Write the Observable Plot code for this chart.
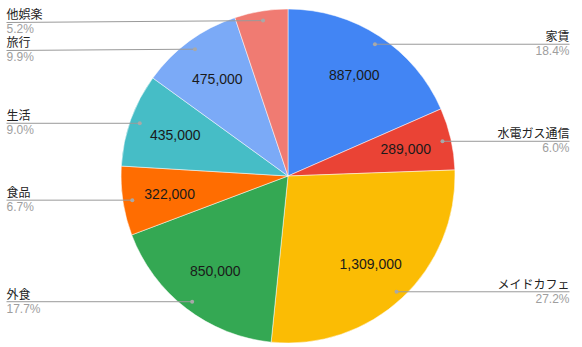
<!DOCTYPE html>
<html><head><meta charset="utf-8">
<script src="https://cdn.jsdelivr.net/npm/d3@7"></script>
<script src="https://cdn.jsdelivr.net/npm/@observablehq/plot@0.6"></script>
<style>body{margin:0;background:#fff} svg{display:block}</style>
</head><body><div id="chart"></div>
<script>
const categories = ["家賃", "水電ガス通信", "メイドカフェ", "外食", "食品", "生活", "旅行", "他娯楽"];
const values = [887000, 289000, 1309000, 850000, 322000, 435000, 475000, 248000];
const colors = ["#4285F4", "#EA4335", "#FBBC04", "#34A853", "#FF6D01", "#46BDC6", "#7BAAF7", "#F07B72"];

const W = 582, H = 347, CX = 288, CY = 176, R = 167;
const LABEL_TOP = 22;   // minimum label line position from the top edge
const LABEL_GAP = 28;   // minimum vertical spacing between labels on one side
const total = d3.sum(values);
const arcs = d3.pie().sort(null).value(d => d)(values);
const rows = arcs.map((p, i) => {
  const mid = (p.startAngle + p.endAngle) / 2;
  const share = values[i] / total;
  const side = mid < Math.PI ? 1 : -1;
  const dy = -0.946 * R * Math.cos(mid);
  return {
    cat: categories[i], value: values[i], share, color: colors[i],
    start: p.startAngle, end: p.endAngle, mid, side,
    vx: 0.72 * R * Math.sin(mid), vy: -0.72 * R * Math.cos(mid),
    dx: 0.946 * R * Math.sin(mid), dy,
    ly: Math.max(dy, -CY + LABEL_TOP),
    ax: side > 0 ? 281 : -282,
    label: d3.format(",")(values[i]),
    pct: (share * 100).toFixed(1) + "%"
  };
});
const right = rows.filter(d => d.side > 0);
const left = rows.filter(d => d.side < 0);
for (const group of [right, left]) {
  const sorted = group.slice().sort((a, b) => a.ly - b.ly);
  for (let i = 1; i < sorted.length; i++) {
    sorted[i].ly = Math.max(sorted[i].ly, sorted[i - 1].ly + LABEL_GAP);
  }
}
const shown = rows.filter(d => d.share >= 0.055);

function slices(index, scales) {
  const x0 = scales.x(0), y0 = scales.y(0), r = scales.x(R) - scales.x(0);
  const arc = d3.arc().innerRadius(0).outerRadius(r);
  const g = d3.create("svg:g").attr("transform", `translate(${x0},${y0})`);
  g.selectAll("path").data(rows).join("path")
    .attr("d", d => arc({startAngle: d.start, endAngle: d.end}))
    .attr("fill", d => d.color)
    .attr("stroke", "#fff")
    .attr("stroke-width", 0.5);
  return g.node();
}

const font = "'Liberation Sans', Arial, 'Noto Sans CJK JP', sans-serif";
const chart = Plot.plot({
  width: W, height: H,
  margin: 0,
  x: {domain: [-CX, W - CX], axis: null},
  y: {domain: [-CY, H - CY], range: [0, H], axis: null},
  style: {fontFamily: font, background: "#fff"},
  marks: [
    slices,
    Plot.text(shown, {x: "vx", y: "vy", text: "label", fontSize: 14, fill: "#1a1a1a"}),
    Plot.link(rows, {x1: "dx", y1: "dy", x2: "ax", y2: "ly", stroke: "#9a9a9a", strokeWidth: 1}),
    Plot.dot(rows, {x: "dx", y: "dy", r: 2, fill: "#a8a8a8"}),
    Plot.text(right, {x: "ax", y: "ly", text: "cat", textAnchor: "end", dy: -7, fontSize: 12, fill: "#222"}),
    Plot.text(right, {x: "ax", y: "ly", text: "pct", textAnchor: "end", dy: 7, fontSize: 12, fill: "#9e9e9e"}),
    Plot.text(left, {x: "ax", y: "ly", text: "cat", textAnchor: "start", dy: -7, fontSize: 12, fill: "#222"}),
    Plot.text(left, {x: "ax", y: "ly", text: "pct", textAnchor: "start", dy: 7, fontSize: 12, fill: "#9e9e9e"})
  ]
});
document.getElementById("chart").append(chart);
</script>
</body></html>
